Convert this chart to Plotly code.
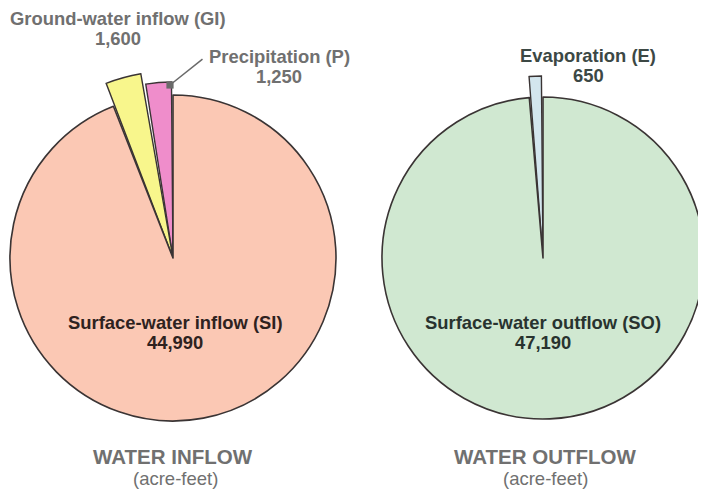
import math
import plotly.graph_objects as go

# ---------------- data ----------------
inflow_names = ["Precipitation (P)", "Ground-water inflow (GI)", "Surface-water inflow (SI)"]
inflow_values = [1250, 1600, 44990]
outflow_names = ["Evaporation (E)", "Surface-water outflow (SO)"]
outflow_values = [650, 47190]
chart_titles = ["WATER INFLOW", "WATER OUTFLOW"]
unit_label = "(acre-feet)"

# ---------------- style ----------------
PAGE_W, PAGE_H = 706, 492
PAGE_MARGIN = 8                      # default body margin of the html page
W, H = PAGE_W - PAGE_MARGIN, PAGE_H - PAGE_MARGIN
FONT = "Liberation Sans, Arial, Helvetica, sans-serif"
OUTLINE = "#3a3434"
GRAY = "#707070"
inflow_colors = ["#ef8dcb", "#f8f68c", "#fbc8b4"]
outflow_colors = ["#d3e6ee", "#d0e8d1"]
# pie geometry (page pixels)
LEFT = dict(cx=173, cy=258, r=163)
RIGHT = dict(cx=543, cy=258, r=161)
# outer radius (px) of the small highlighted wedges
wedge_radius_px = {"Precipitation (P)": 176, "Ground-water inflow (GI)": 187, "Evaporation (E)": 182}
SECTOR_R = 195   # pixel radius of the helper polar used for wedges
GAP_DEG = 0.5    # angular inset on each side of a small wedge (white gap)


def fx(px):
    return (px - PAGE_MARGIN) / W


def fy(py):
    return 1 - (py - PAGE_MARGIN) / H


fig = go.Figure()


def pie_domain(c):
    return dict(x=[fx(c["cx"] - c["r"]), fx(c["cx"] + c["r"])],
                y=[fy(c["cy"] + c["r"]), fy(c["cy"] - c["r"])])


def sector_bbox(s0, s1):
    a0 = s0 % 360
    a1 = a0 + (s1 - s0)
    ax0, ay0 = math.cos(math.radians(a0)), math.sin(math.radians(a0))
    ax1, ay1 = math.cos(math.radians(a1)), math.sin(math.radians(a1))
    if (a0 <= 90 <= a1) or (a0 > 90 and a1 >= 450):
        y1 = 1
    elif ay0 <= 0 and ay1 <= 0:
        y1 = 0
    else:
        y1 = max(ay0, ay1)
    if (a0 <= 270 <= a1) or (a0 > 270 and a1 >= 630):
        y0 = -1
    elif ay0 >= 0 and ay1 >= 0:
        y0 = 0
    else:
        y0 = min(ay0, ay1)
    if (a0 <= 0 <= a1) or (a0 > 0 and a1 >= 360):
        x1 = 1
    elif ax0 <= 0 and ax1 <= 0:
        x1 = 0
    else:
        x1 = max(ax0, ax1)
    if (a0 <= 180 <= a1) or (a0 > 180 and a1 >= 540):
        x0 = -1
    elif ax0 >= 0 and ax1 >= 0:
        x0 = 0
    else:
        x0 = min(ax0, ax1)
    return x0, y0, x1, y1


def add_chart(names, values, colors, c, n_small, polar_id):
    total = sum(values)
    transparent = "rgba(0,0,0,0)"
    fills = [transparent] * n_small + colors[n_small:]
    widths_line = [0] * n_small + [1.6] * (len(values) - n_small)
    # main pie (clockwise from 12 o'clock, big slice first): only the large slice is painted
    fig.add_trace(go.Pie(
        labels=names[::-1], values=values[::-1], sort=False, direction="clockwise", rotation=0,
        domain=pie_domain(c), textinfo="none", hoverinfo="label+value", showlegend=False,
        marker=dict(colors=fills[::-1], line=dict(color=OUTLINE, width=widths_line[::-1])),
    ))
    # small wedges: bars in a polar sector sharing the pie centre (counter-clockwise from top)
    widths, centers = [], []
    start = 0.0
    for v in values[:n_small]:
        w = v / total * 360.0
        widths.append(w - 2 * GAP_DEG)
        centers.append(start + w / 2)
        start += w
    s0, s1 = 86, 90 + start + 5
    x0, y0, x1, y1 = sector_bbox(s0, s1)
    dom = dict(x=[fx(c["cx"] + SECTOR_R * x0), fx(c["cx"] + SECTOR_R * x1)],
               y=[fy(c["cy"] - SECTOR_R * y0), fy(c["cy"] - SECTOR_R * y1)])
    radii = [wedge_radius_px[n] / SECTOR_R for n in names[:n_small]]
    fig.add_trace(go.Barpolar(
        r=radii, theta=centers, width=widths, subplot=polar_id, showlegend=False,
        text=[f"{n}: {v:,}" for n, v in zip(names[:n_small], values[:n_small])], hoverinfo="text",
        marker=dict(color=colors[:n_small], line=dict(color=OUTLINE, width=1.4)),
    ))
    fig.update_layout({polar_id: dict(
        domain=dom, sector=[s0, s1], bgcolor="rgba(0,0,0,0)", barmode="overlay",
        radialaxis=dict(range=[0, 1], visible=False, showgrid=False),
        angularaxis=dict(rotation=90, direction="counterclockwise", visible=False, showgrid=False),
    )})


add_chart(inflow_names, inflow_values, inflow_colors, LEFT, 2, "polar")
add_chart(outflow_names, outflow_values, outflow_colors, RIGHT, 1, "polar2")

annotations = []


def label(text, px, py, size=18.4, color=GRAY, bold=True):
    t = f"<b>{text}</b>" if bold else text
    annotations.append(dict(text=t, x=fx(px), y=fy(py), xref="paper", yref="paper",
                            xanchor="center", yanchor="middle", showarrow=False,
                            font=dict(family=FONT, size=size, color=color)))


def fmt(v):
    return f"{v:,}"


label(inflow_names[1], 118, 18.5)
label(fmt(inflow_values[1]), 118, 38)
label(inflow_names[0], 279, 56)
label(fmt(inflow_values[0]), 279, 76.5)
label(inflow_names[2], 175, 322.5, color="#2e2220")
label(fmt(inflow_values[2]), 175, 342, color="#2e2220")
label(outflow_names[0], 588, 55.5, color="#3c4845")
label(fmt(outflow_values[0]), 588, 75, color="#3c4845")
label(outflow_names[1], 543, 322.5, color="#28332f")
label(fmt(outflow_values[1]), 543, 342, color="#28332f")
label(chart_titles[0], 173, 456, size=20.5)
label(unit_label, 175, 478, size=18.5, bold=False)
label(chart_titles[1], 545, 456, size=20.5)
label(unit_label, 545, 478, size=18.5, bold=False)

# leader line for precipitation
annotations.append(dict(text="", x=fx(170), y=fy(85), xref="paper", yref="paper",
                        showarrow=True, ax=34, ay=-27, arrowhead=7, arrowsize=1.2,
                        arrowwidth=1.5, arrowcolor="#6a6a6a", standoff=0))

fig.update_layout(width=W, height=H, margin=dict(l=0, r=0, t=0, b=0),
                  paper_bgcolor="white", plot_bgcolor="white",
                  annotations=annotations, showlegend=False)

fig.write_html("out.html")
